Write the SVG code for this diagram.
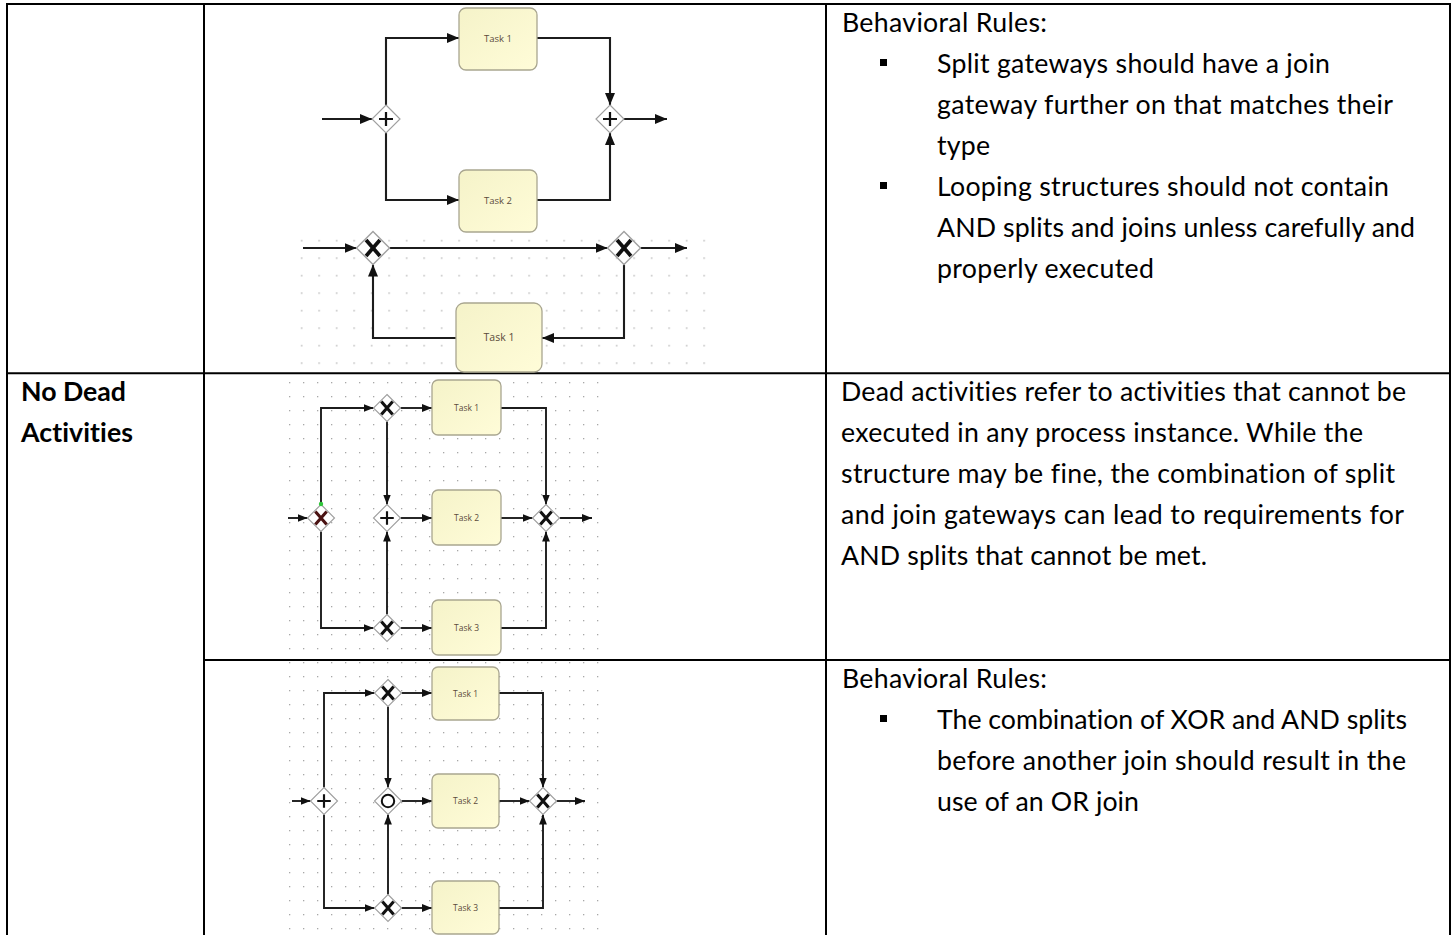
<svg xmlns="http://www.w3.org/2000/svg" xmlns:xlink="http://www.w3.org/1999/xlink" width="1454" height="935" viewBox="0 0 1454 935">
  <style>
    .tbl { stroke: #000; stroke-width: 2; fill: none; }
    .txt { font-family: Lato, "Liberation Sans", sans-serif; font-size: 26.7px; fill: #000; font-variant-ligatures: none; font-feature-settings: "liga" 0, "clig" 0, "dlig" 0; }
    .bold { font-weight: 700; }
    .bullet { fill: #000; }
    .tk rect { fill: url(#taskFill); stroke: #a9a690; stroke-width: 1.3; }
    .tk text { font-family: "Open Sans", "Liberation Sans", sans-serif; fill: #5b4b3b; text-anchor: middle; }
    .cn path { fill: none; stroke: #1c1c1c; stroke-width: 1.9; }
    .cn .big path { stroke-width: 2.1; marker-end: url(#arrowBig); }
    .cn .small path { marker-end: url(#arrowSmall); }
  </style>
  <defs>
    <linearGradient id="taskFill" x1="0" y1="0" x2="1" y2="1">
      <stop offset="0" stop-color="#f5f3c9"/>
      <stop offset="1" stop-color="#fffcd8"/>
    </linearGradient>
    <pattern id="grid14" patternUnits="userSpaceOnUse" x="283" y="376" width="14" height="14">
      <rect x="6" y="6" width="1.3" height="1.3" fill="#a8a8a8"/>
    </pattern>
    <pattern id="grid17" patternUnits="userSpaceOnUse" x="293" y="232" width="17.5" height="17.5">
      <rect x="8" y="8" width="1.3" height="1.3" fill="#a8a8a8"/>
    </pattern>
    <marker id="arrowBig" markerUnits="userSpaceOnUse" markerWidth="13" markerHeight="11" refX="12" refY="5" orient="auto">
      <path d="M0,0 L12,5 L0,10 z" fill="#111"/>
    </marker>
    <marker id="arrowSmall" markerUnits="userSpaceOnUse" markerWidth="11" markerHeight="9" refX="10" refY="3.9" orient="auto">
      <path d="M0,0 L10,3.9 L0,7.8 z" fill="#111"/>
    </marker>
    <!-- gateway shapes, unit half-size 10, placed with translate + scale -->
    <polygon id="gwd" points="0,-10 10,0 0,10 -10,0" fill="#fff" stroke="#a0a0a0" stroke-width="0.85"/>
    <g id="gw-and">
      <use xlink:href="#gwd"/>
      <path d="M-5,0H5M0,-5V5" stroke="#111" stroke-width="1.6" fill="none"/>
    </g>
    <g id="gw-xor">
      <use xlink:href="#gwd"/>
      <path d="M-4.2,-4.8L4.2,4.8M4.2,-4.8L-4.2,4.8" stroke="currentColor" stroke-width="2.3" fill="none"/>
    </g>
    <g id="gw-or">
      <use xlink:href="#gwd"/>
      <circle r="4.6" fill="none" stroke="#111" stroke-width="1.5"/>
    </g>
  </defs>

  <rect width="1454" height="935" fill="#fff"/>

  <!-- dotted canvas areas behind the process sketches -->
  <rect x="293" y="235" width="415" height="137" fill="url(#grid17)"/>
  <rect x="283" y="376" width="322" height="282" fill="url(#grid14)"/>
  <rect x="283" y="662" width="317" height="273" fill="url(#grid14)"/>

  <!-- table grid -->
  <g id="table" class="tbl">
    <path d="M6,4 H1451"/>
    <path d="M7,3 V935"/>
    <path d="M204,3 V935"/>
    <path d="M826,3 V935"/>
    <path d="M1450,3 V935"/>
    <path d="M6,373.3 H1451"/>
    <path d="M204,660 H1451"/>
  </g>

  <!-- left column heading -->
  <g id="heading-dead" class="txt bold">
    <text x="21" y="401" textLength="105">No Dead</text>
    <text x="21" y="442" textLength="112">Activities</text>
  </g>

  <!-- right column texts -->
  <g id="rules-1" class="txt">
    <text x="842" y="32" textLength="205">Behavioral Rules:</text>
    <rect class="bullet" x="880" y="59" width="7" height="7"/>
    <text x="937" y="73" textLength="393">Split gateways should have a join</text>
    <text x="937" y="114" textLength="456">gateway further on that matches their</text>
    <text x="937" y="155" textLength="53">type</text>
    <rect class="bullet" x="880" y="182" width="7" height="7"/>
    <text x="937" y="196" textLength="452">Looping structures should not contain</text>
    <text x="937" y="237" textLength="478">AND splits and joins unless carefully and</text>
    <text x="937" y="278" textLength="217">properly executed</text>
  </g>
  <g id="desc-dead" class="txt">
    <text x="841" y="401" textLength="565">Dead activities refer to activities that cannot be</text>
    <text x="841" y="442" textLength="522">executed in any process instance. While the</text>
    <text x="841" y="483" textLength="554">structure may be fine, the combination of split</text>
    <text x="841" y="524" textLength="563">and join gateways can lead to requirements for</text>
    <text x="841" y="565" textLength="366">AND splits that cannot be met.</text>
  </g>
  <g id="rules-2" class="txt">
    <text x="842" y="688" textLength="205">Behavioral Rules:</text>
    <rect class="bullet" x="880" y="715" width="7" height="7"/>
    <text x="937" y="729" textLength="470">The combination of XOR and AND splits</text>
    <text x="937" y="770" textLength="469">before another join should result in the</text>
    <text x="937" y="811" textLength="202">use of an OR join</text>
  </g>

  <!-- connectors -->
  <g id="connectors" class="cn">
    <g class="big">
      <!-- parallel split/join -->
      <path d="M322,119 H372"/>
      <path d="M386,105 V38 H459"/>
      <path d="M386,133 V200 H459"/>
      <path d="M537,38 H610 V105"/>
      <path d="M537,200 H610 V133"/>
      <path d="M624,119 H667"/>
      <!-- XOR loop -->
      <path d="M303,248 H356.5"/>
      <path d="M389.5,248 H607.5"/>
      <path d="M640.5,248 H687"/>
      <path d="M624,264.5 V338 H542"/>
      <path d="M456,338 H373 V264.5"/>
    </g>
    <g class="small">
      <!-- dead activity example -->
      <path d="M288,518 H307.5"/>
      <path d="M321,504.5 V408 H373.5"/>
      <path d="M400.5,408 H432"/>
      <path d="M387,421.5 V504.5"/>
      <path d="M387,614.5 V531.5"/>
      <path d="M400.5,518 H432"/>
      <path d="M321,531.5 V628 H373.5"/>
      <path d="M400.5,628 H432"/>
      <path d="M501,408 H546 V504.5"/>
      <path d="M501,518 H532.5"/>
      <path d="M501,628 H546 V531.5"/>
      <path d="M559.5,518 H592"/>
      <!-- OR join example -->
      <path d="M292,801 H310.5"/>
      <path d="M324,787.5 V693 H374.5"/>
      <path d="M401.5,693 H432"/>
      <path d="M388,706.5 V787.5"/>
      <path d="M401.5,801 H432"/>
      <path d="M324,814.5 V908 H374.5"/>
      <path d="M388,894.5 V814.5"/>
      <path d="M401.5,908 H432"/>
      <path d="M499,693 H543 V787.5"/>
      <path d="M499,801 H529.5"/>
      <path d="M499,908 H543 V814.5"/>
      <path d="M556.5,801 H585"/>
    </g>
  </g>

  <!-- parallel split / join -->
  <g id="and-split-1"><use xlink:href="#gw-and" transform="translate(386 119) scale(1.4)"/></g>
  <g id="and-join-1"><use xlink:href="#gw-and" transform="translate(610 119) scale(1.4)"/></g>
  <g id="task-a1" class="tk"><rect x="459" y="8" width="78" height="62" rx="7"/><text x="498" y="42" font-size="9.5">Task 1</text></g>
  <g id="task-a2" class="tk"><rect x="459" y="170" width="78" height="62" rx="7"/><text x="498" y="204" font-size="9.5">Task 2</text></g>

  <!-- XOR loop -->
  <g id="xor-merge-2"><use xlink:href="#gw-xor" color="#111" transform="translate(373 248) scale(1.65)"/></g>
  <g id="xor-split-2"><use xlink:href="#gw-xor" color="#111" transform="translate(624 248) scale(1.65)"/></g>
  <g id="task-b1" class="tk"><rect x="456" y="303" width="86" height="69" rx="8"/><text x="499" y="341" font-size="10.5">Task 1</text></g>

  <!-- dead activity example -->
  <g id="xor-split-3"><use xlink:href="#gw-xor" color="#4a1212" transform="translate(321 518) scale(1.35)"/><circle cx="321" cy="504" r="2.2" fill="#2fc53a"/></g>
  <g id="xor-top-3"><use xlink:href="#gw-xor" color="#111" transform="translate(387 408) scale(1.35)"/></g>
  <g id="and-mid-3"><use xlink:href="#gw-and" transform="translate(387 518) scale(1.35)"/></g>
  <g id="xor-bottom-3"><use xlink:href="#gw-xor" color="#111" transform="translate(387 628) scale(1.35)"/></g>
  <g id="xor-join-3"><use xlink:href="#gw-xor" color="#111" transform="translate(546 518) scale(1.35)"/></g>
  <g id="task-c1" class="tk"><rect x="432" y="380" width="69" height="55" rx="6"/><text x="466.5" y="410.5" font-size="8.5">Task 1</text></g>
  <g id="task-c2" class="tk"><rect x="432" y="490" width="69" height="55" rx="6"/><text x="466.5" y="520.5" font-size="8.5">Task 2</text></g>
  <g id="task-c3" class="tk"><rect x="432" y="600" width="69" height="55" rx="6"/><text x="466.5" y="630.5" font-size="8.5">Task 3</text></g>

  <!-- OR join example -->
  <g id="and-split-4"><use xlink:href="#gw-and" transform="translate(324 801) scale(1.35)"/></g>
  <g id="xor-top-4"><use xlink:href="#gw-xor" color="#111" transform="translate(388 693) scale(1.35)"/></g>
  <g id="or-mid-4"><use xlink:href="#gw-or" transform="translate(388 801) scale(1.35)"/></g>
  <g id="xor-bottom-4"><use xlink:href="#gw-xor" color="#111" transform="translate(388 908) scale(1.35)"/></g>
  <g id="xor-join-4"><use xlink:href="#gw-xor" color="#111" transform="translate(543 801) scale(1.35)"/></g>
  <g id="task-d1" class="tk"><rect x="432" y="667" width="67" height="53" rx="6"/><text x="465.5" y="696.5" font-size="8.5">Task 1</text></g>
  <g id="task-d2" class="tk"><rect x="432" y="774" width="67" height="54" rx="6"/><text x="465.5" y="804" font-size="8.5">Task 2</text></g>
  <g id="task-d3" class="tk"><rect x="432" y="881" width="67" height="53" rx="6"/><text x="465.5" y="910.5" font-size="8.5">Task 3</text></g>
</svg>
